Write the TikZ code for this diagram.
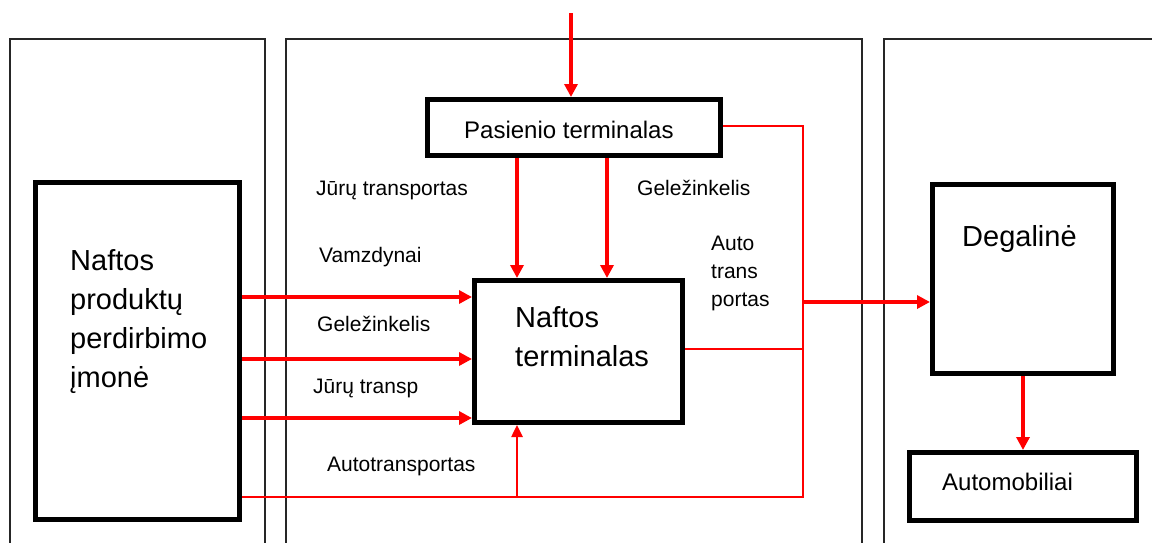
\documentclass[tikz,border=0pt]{standalone}
\usepackage{fontspec}
\setmainfont{Liberation Sans}
\usetikzlibrary{arrows.meta}
\begin{document}
\begin{tikzpicture}[x=1pt,y=-1pt,
  panel/.style={draw=black!85, line width=2pt},
  blk/.style={draw=black, line width=5pt, inner sep=0pt, rectangle},
  flow/.style={draw=red, line width=3.5pt, -{Triangle[length=13pt,width=13pt]}},
  flowthin/.style={draw=red, line width=2.5pt, -{Triangle[length=12pt,width=11pt]}},
  redline/.style={draw=red, line width=2pt},
  lbl/.style={font=\fontsize{21}{25}\selectfont, inner sep=0pt, anchor=base west},
  big/.style={font=\fontsize{29}{35}\selectfont, inner sep=0pt, anchor=base west},
  mid/.style={font=\fontsize{24}{28}\selectfont, inner sep=0pt, anchor=base west}]
\useasboundingbox (0,0) rectangle (1152,542);
% panels
\draw[panel] (10,545) -- (10,39) -- (265,39) -- (265,545);
\draw[panel] (286,545) -- (286,39) -- (862,39) -- (862,545);
\draw[panel] (884,545) -- (884,39) -- (1160,39);
% boxes
\node[blk, minimum width=204pt, minimum height=337pt] (lb) at (137.5,351) {};
\node[blk, minimum width=293pt, minimum height=56pt] (pt) at (574,127.5) {};
\node[blk, minimum width=208pt, minimum height=142pt] (term) at (578.5,351.5) {};
\node[blk, minimum width=181pt, minimum height=189pt] (deg) at (1023,279) {};
\node[blk, minimum width=227pt, minimum height=68pt] (auto) at (1023,486.5) {};
% box texts
\node[big] (lb1) at (70,270) {Naftos};
\node[big] (lb2) at (70,309) {produktų};
\node[big] (lb3) at (70,348) {perdirbimo};
\node[big] (lb4) at (70,387) {įmonė};
\node[mid] (ptt) at (464,138) {Pasienio terminalas};
\node[big] (tt1) at (515,327) {Naftos};
\node[big] (tt2) at (515,366) {terminalas};
\node[big] (degt) at (962,246) {Degalinė};
\node[mid] (autot) at (942,490) {Automobiliai};
% labels
\node[lbl] (l1) at (316,195) {Jūrų transportas};
\node[lbl] (l2) at (637,195) {Geležinkelis};
\node[lbl] (l3) at (319,262) {Vamzdynai};
\node[lbl] (l4) at (317,331) {Geležinkelis};
\node[lbl] (l5) at (313,393) {Jūrų transp};
\node[lbl] (l6) at (327,471) {Autotransportas};
\node[lbl] (l7) at (711,250) {Auto};
\node[lbl] (l8) at (711,278) {trans};
\node[lbl] (l9) at (711,306) {portas};
% coordinates
\coordinate (top) at (571,13);
\coordinate (c1) at (517,0);
\coordinate (c2) at (607,0);
\coordinate (r1) at (0,297);
\coordinate (r2) at (0,359);
\coordinate (r3) at (0,418);
\coordinate (j1) at (803,126);
\coordinate (j2) at (803,497);
\coordinate (j3) at (803,302);
\coordinate (j4) at (803,349);
% connectors
\draw[flow] (top) -- (top |- pt.north);
\draw[flow] (c1 |- pt.south) -- (c1 |- term.north);
\draw[flow] (c2 |- pt.south) -- (c2 |- term.north);
\draw[flow] (r1 -| lb.east) -- (r1 -| term.west);
\draw[flow] (r2 -| lb.east) -- (r2 -| term.west);
\draw[flow] (r3 -| lb.east) -- (r3 -| term.west);
\draw[redline] (j1 -| pt.east) -- (j1) -- (j2) -- (j2 -| lb.east);
\draw[redline] (j4 -| term.east) -- (j4);
\draw[flowthin] (c1 |- j2) -- (c1 |- term.south);
\draw[flow] (j3) -- (j3 -| deg.west);
\draw[flow] (deg.south) -- (auto.north);
\end{tikzpicture}
\end{document}
